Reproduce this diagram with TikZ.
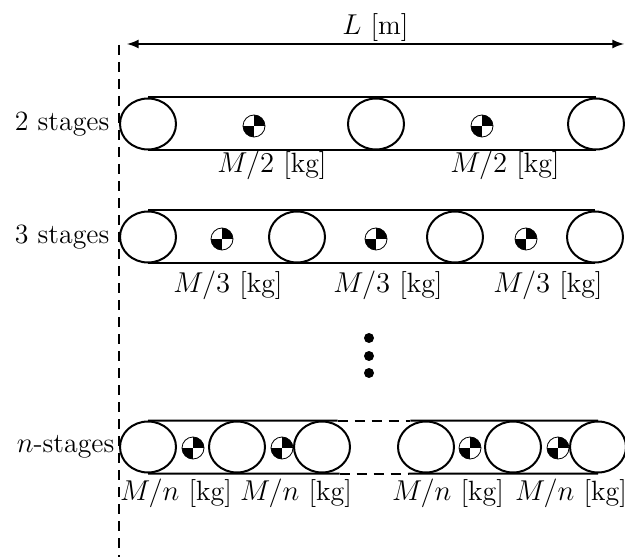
\documentclass[tikz,border=0pt]{standalone}
\usepackage{amsmath}
\usepackage{tikz}
\usetikzlibrary{calc,shapes.geometric}

\begin{document}
\begin{tikzpicture}[x=0.5bp, y=-0.5bp, line width=1bp,
                    every node/.style={font=\fontsize{14}{16}\selectfont},
                    wheel node/.style={ellipse,draw,minimum width=28bp,minimum height=25.5bp,inner sep=0pt},
                    mass node/.style={circle,draw,line width=0.4bp,minimum size=11bp,inner sep=0pt,
                        path picture={\fill (path picture bounding box.center) rectangle (path picture bounding box.north east);
                                      \fill (path picture bounding box.center) rectangle (path picture bounding box.south west);}},
                    dot node/.style={circle,fill,minimum size=5bp,inner sep=0pt},
                    gap/.style={dash pattern=on 5bp off 3.5bp}]
    \useasboundingbox (0,0) rectangle (625,557);

    % reference line and length
    \coordinate (top) at (119,45);
    \coordinate (bottom) at (119,557);
    \draw[gap] (top) -- (bottom);
    \coordinate (left) at (127,44);
    \coordinate (right) at (624,44);
    \draw[latex-latex] (left) -- node[above, inner sep=1bp] (len) {$L$ [m]} (right);

    % 2 stages
    \node[anchor=east] (s2) at (117,124) {2 stages};
    \node[wheel node] (a1) at (148,124) {};
    \node[wheel node] (a2) at (376,124) {};
    \node[wheel node] (a3) at (596,124) {};
    \draw (a1.north) -- (a3.north)
          (a1.south) -- (a3.south);
    \node[mass node] (ma1) at (254,126) {};
    \node[mass node] (ma2) at (482,126) {};
    \node (la1) at (272,165) {$M/2$ [kg]};
    \node (la2) at (505,165) {$M/2$ [kg]};

    % 3 stages
    \node[anchor=east] (s3) at (117,237) {3 stages};
    \node[wheel node] (b1) at (148,237) {};
    \node[wheel node] (b2) at (297,237) {};
    \node[wheel node] (b3) at (455,237) {};
    \node[wheel node] (b4) at (595,237) {};
    \draw (b1.north) -- (b4.north)
          (b1.south) -- (b4.south);
    \node[mass node] (mb1) at (222,239) {};
    \node[mass node] (mb2) at (376,239) {};
    \node[mass node] (mb3) at (526,239) {};
    \node (lb1) at (228,285) {$M/3$ [kg]};
    \node (lb2) at (388,285) {$M/3$ [kg]};
    \node (lb3) at (548,285) {$M/3$ [kg]};

    % more stages
    \node[dot node] (d1) at (369,338) {};
    \node[dot node] (d2) at (369,356) {};
    \node[dot node] (d3) at (369,373) {};

    % n stages
    \node[anchor=east] (sn) at (122,447) {$n$-stages};
    \node[wheel node] (c1) at (148,447) {};
    \node[wheel node] (c2) at (237,447) {};
    \node[wheel node] (c3) at (322,447) {};
    \node[wheel node] (c4) at (426,447) {};
    \node[wheel node] (c5) at (513,447) {};
    \node[wheel node] (c6) at (598,447) {};
    \coordinate (ntl) at ($(c3.north)!0.15!(c4.north)$);
    \coordinate (ntr) at ($(c3.north)!0.85!(c4.north)$);
    \coordinate (nbl) at ($(c3.south)!0.17!(c4.south)$);
    \coordinate (nbr) at ($(c3.south)!0.83!(c4.south)$);
    \draw (c1.north) -- (ntl) (c1.south) -- (nbl)
          (ntr) -- (c6.north) (nbr) -- (c6.south);
    \draw[gap] (ntl) -- (ntr) (nbl) -- (nbr);
    \node[mass node] (mc1) at (193,448) {};
    \node[mass node] (mc2) at (282,448) {};
    \node[mass node] (mc3) at (470,448) {};
    \node[mass node] (mc4) at (558,448) {};
    \node (lc1) at (176,493) {$M/n$ [kg]};
    \node (lc2) at (296,493) {$M/n$ [kg]};
    \node (lc3) at (448,493) {$M/n$ [kg]};
    \node (lc4) at (571,493) {$M/n$ [kg]};
\end{tikzpicture}
\end{document}
